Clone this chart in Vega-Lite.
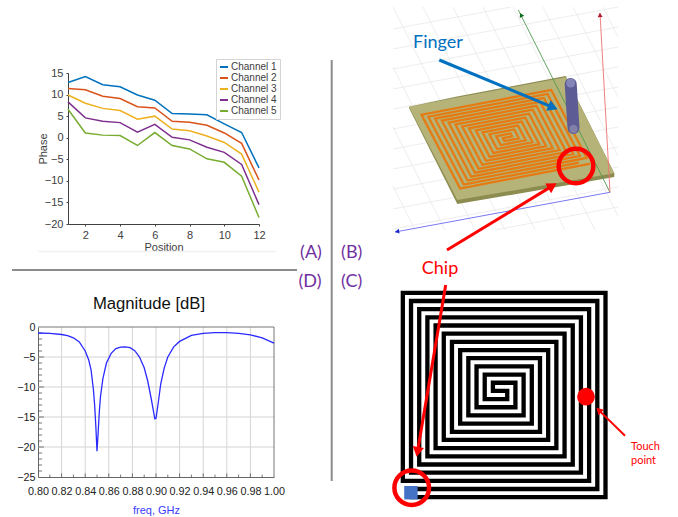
{
"$schema":"https://vega.github.io/schema/vega-lite/v6.json",
"width":678,"height":517,"padding":0,"autosize":"none","background":"white",
"config":{"view":{"stroke":null},"font":"Liberation Sans"},
"datasets":{
"phase":[
{"position":1,"channel":"Channel 1","phase":12.8},{"position":2,"channel":"Channel 1","phase":14.2},{"position":3,"channel":"Channel 1","phase":12.3},{"position":4,"channel":"Channel 1","phase":11.8},{"position":5,"channel":"Channel 1","phase":9.9},{"position":6,"channel":"Channel 1","phase":8.7},{"position":7,"channel":"Channel 1","phase":5.6},{"position":8,"channel":"Channel 1","phase":5.5},{"position":9,"channel":"Channel 1","phase":5.3},{"position":10,"channel":"Channel 1","phase":3.2},{"position":11,"channel":"Channel 1","phase":1.2},{"position":12,"channel":"Channel 1","phase":-7.0},
{"position":1,"channel":"Channel 2","phase":11.4},{"position":2,"channel":"Channel 2","phase":11.1},{"position":3,"channel":"Channel 2","phase":9.6},{"position":4,"channel":"Channel 2","phase":9.1},{"position":5,"channel":"Channel 2","phase":7.2},{"position":6,"channel":"Channel 2","phase":6.9},{"position":7,"channel":"Channel 2","phase":3.8},{"position":8,"channel":"Channel 2","phase":3.6},{"position":9,"channel":"Channel 2","phase":2.9},{"position":10,"channel":"Channel 2","phase":1.1},{"position":11,"channel":"Channel 2","phase":-1.3},{"position":12,"channel":"Channel 2","phase":-9.8},
{"position":1,"channel":"Channel 3","phase":9.9},{"position":2,"channel":"Channel 3","phase":8.0},{"position":3,"channel":"Channel 3","phase":6.8},{"position":4,"channel":"Channel 3","phase":6.3},{"position":5,"channel":"Channel 3","phase":4.3},{"position":6,"channel":"Channel 3","phase":5.0},{"position":7,"channel":"Channel 3","phase":2.0},{"position":8,"channel":"Channel 3","phase":1.6},{"position":9,"channel":"Channel 3","phase":0.4},{"position":10,"channel":"Channel 3","phase":-1.1},{"position":11,"channel":"Channel 3","phase":-3.8},{"position":12,"channel":"Channel 3","phase":-12.6},
{"position":1,"channel":"Channel 4","phase":8.3},{"position":2,"channel":"Channel 4","phase":4.6},{"position":3,"channel":"Channel 4","phase":3.8},{"position":4,"channel":"Channel 4","phase":3.5},{"position":5,"channel":"Channel 4","phase":1.3},{"position":6,"channel":"Channel 4","phase":3.1},{"position":7,"channel":"Channel 4","phase":0.1},{"position":8,"channel":"Channel 4","phase":-0.5},{"position":9,"channel":"Channel 4","phase":-2.2},{"position":10,"channel":"Channel 4","phase":-3.4},{"position":11,"channel":"Channel 4","phase":-6.2},{"position":12,"channel":"Channel 4","phase":-15.5},
{"position":1,"channel":"Channel 5","phase":6.6},{"position":2,"channel":"Channel 5","phase":1.1},{"position":3,"channel":"Channel 5","phase":0.6},{"position":4,"channel":"Channel 5","phase":0.5},{"position":5,"channel":"Channel 5","phase":-1.8},{"position":6,"channel":"Channel 5","phase":1.2},{"position":7,"channel":"Channel 5","phase":-1.8},{"position":8,"channel":"Channel 5","phase":-2.6},{"position":9,"channel":"Channel 5","phase":-4.9},{"position":10,"channel":"Channel 5","phase":-5.7},{"position":11,"channel":"Channel 5","phase":-8.9},{"position":12,"channel":"Channel 5","phase":-18.5}
],
"magnitude":[
{"f":0.80,"db":-1.0},{"f":0.81,"db":-1.05},{"f":0.82,"db":-1.25},{"f":0.825,"db":-1.45},{"f":0.83,"db":-1.8},{"f":0.835,"db":-2.5},{"f":0.84,"db":-4.0},{"f":0.843,"db":-5.5},{"f":0.845,"db":-7.2},{"f":0.847,"db":-10.5},{"f":0.848,"db":-13},{"f":0.849,"db":-16.5},{"f":0.85,"db":-20.7},{"f":0.851,"db":-17.5},{"f":0.852,"db":-14},{"f":0.853,"db":-11.5},{"f":0.855,"db":-8.6},{"f":0.858,"db":-6.0},{"f":0.862,"db":-4.4},{"f":0.866,"db":-3.6},{"f":0.87,"db":-3.35},{"f":0.874,"db":-3.3},{"f":0.878,"db":-3.45},{"f":0.882,"db":-3.95},{"f":0.886,"db":-5.0},{"f":0.89,"db":-6.8},{"f":0.893,"db":-9},{"f":0.896,"db":-12},{"f":0.899,"db":-15.3},{"f":0.9,"db":-15.2},{"f":0.902,"db":-12.5},{"f":0.904,"db":-9.5},{"f":0.907,"db":-6.8},{"f":0.91,"db":-5.0},{"f":0.915,"db":-3.3},{"f":0.92,"db":-2.4},{"f":0.93,"db":-1.4},{"f":0.94,"db":-1.05},{"f":0.95,"db":-0.95},{"f":0.96,"db":-0.95},{"f":0.97,"db":-1.05},{"f":0.98,"db":-1.3},{"f":0.99,"db":-1.8},{"f":1.0,"db":-2.7}
],
"gridD":[
{"f":0.82,"f2":0.82,"db":-25,"db2":0},{"f":0.84,"f2":0.84,"db":-25,"db2":0},{"f":0.86,"f2":0.86,"db":-25,"db2":0},{"f":0.88,"f2":0.88,"db":-25,"db2":0},{"f":0.90,"f2":0.90,"db":-25,"db2":0},{"f":0.92,"f2":0.92,"db":-25,"db2":0},{"f":0.94,"f2":0.94,"db":-25,"db2":0},{"f":0.96,"f2":0.96,"db":-25,"db2":0},{"f":0.98,"f2":0.98,"db":-25,"db2":0},
{"f":0.8,"f2":1,"db":-5,"db2":-5},{"f":0.8,"f2":1,"db":-10,"db2":-10},{"f":0.8,"f2":1,"db":-15,"db2":-15},{"f":0.8,"f2":1,"db":-20,"db2":-20}
],
"frameD":[{"f":1,"f2":1,"db":-25,"db2":0},{"f":0.8,"f2":1,"db":0,"db2":0}],
"ticksD":[
{"f":0.81,"f2":0.81,"db":-25,"db2":-24.6},{"f":0.82,"f2":0.82,"db":-25,"db2":-24.4},{"f":0.83,"f2":0.83,"db":-25,"db2":-24.6},{"f":0.84,"f2":0.84,"db":-25,"db2":-24.4},{"f":0.85,"f2":0.85,"db":-25,"db2":-24.6},{"f":0.86,"f2":0.86,"db":-25,"db2":-24.4},{"f":0.87,"f2":0.87,"db":-25,"db2":-24.6},{"f":0.88,"f2":0.88,"db":-25,"db2":-24.4},{"f":0.89,"f2":0.89,"db":-25,"db2":-24.6},{"f":0.90,"f2":0.90,"db":-25,"db2":-24.4},{"f":0.91,"f2":0.91,"db":-25,"db2":-24.6},{"f":0.92,"f2":0.92,"db":-25,"db2":-24.4},{"f":0.93,"f2":0.93,"db":-25,"db2":-24.6},{"f":0.94,"f2":0.94,"db":-25,"db2":-24.4},{"f":0.95,"f2":0.95,"db":-25,"db2":-24.6},{"f":0.96,"f2":0.96,"db":-25,"db2":-24.4},{"f":0.97,"f2":0.97,"db":-25,"db2":-24.6},{"f":0.98,"f2":0.98,"db":-25,"db2":-24.4},{"f":0.99,"f2":0.99,"db":-25,"db2":-24.6},
{"f":0.8,"f2":0.8035,"db":-1,"db2":-1},{"f":0.8,"f2":0.8035,"db":-2,"db2":-2},{"f":0.8,"f2":0.8035,"db":-3,"db2":-3},{"f":0.8,"f2":0.8035,"db":-4,"db2":-4},{"f":0.8,"f2":0.805,"db":-5,"db2":-5},{"f":0.8,"f2":0.8035,"db":-6,"db2":-6},{"f":0.8,"f2":0.8035,"db":-7,"db2":-7},{"f":0.8,"f2":0.8035,"db":-8,"db2":-8},{"f":0.8,"f2":0.8035,"db":-9,"db2":-9},{"f":0.8,"f2":0.805,"db":-10,"db2":-10},{"f":0.8,"f2":0.8035,"db":-11,"db2":-11},{"f":0.8,"f2":0.8035,"db":-12,"db2":-12},{"f":0.8,"f2":0.8035,"db":-13,"db2":-13},{"f":0.8,"f2":0.8035,"db":-14,"db2":-14},{"f":0.8,"f2":0.805,"db":-15,"db2":-15},{"f":0.8,"f2":0.8035,"db":-16,"db2":-16},{"f":0.8,"f2":0.8035,"db":-17,"db2":-17},{"f":0.8,"f2":0.8035,"db":-18,"db2":-18},{"f":0.8,"f2":0.8035,"db":-19,"db2":-19},{"f":0.8,"f2":0.805,"db":-20,"db2":-20},{"f":0.8,"f2":0.8035,"db":-21,"db2":-21},{"f":0.8,"f2":0.8035,"db":-22,"db2":-22},{"f":0.8,"f2":0.8035,"db":-23,"db2":-23},{"f":0.8,"f2":0.8035,"db":-24,"db2":-24}
],
"spiral":[
{"i":1,"s":1.1,"t":25},{"i":2,"s":24.75,"t":25},{"i":3,"s":24.75,"t":0},{"i":4,"s":0,"t":0},{"i":5,"s":0,"t":23},{"i":6,"s":22.75,"t":23},{"i":7,"s":22.75,"t":2},{"i":8,"s":2,"t":2},{"i":9,"s":2,"t":21},{"i":10,"s":20.75,"t":21},{"i":11,"s":20.75,"t":4},{"i":12,"s":4,"t":4},{"i":13,"s":4,"t":19},{"i":14,"s":18.75,"t":19},{"i":15,"s":18.75,"t":6},{"i":16,"s":6,"t":6},{"i":17,"s":6,"t":17},{"i":18,"s":16.75,"t":17},{"i":19,"s":16.75,"t":8},{"i":20,"s":8,"t":8},{"i":21,"s":8,"t":15},{"i":22,"s":14.75,"t":15},{"i":23,"s":14.75,"t":10},{"i":24,"s":10,"t":10},{"i":25,"s":10,"t":13},{"i":26,"s":12.75,"t":13},{"i":27,"s":12.75,"t":12},{"i":28,"s":11,"t":12},{"i":29,"s":11,"t":11},{"i":30,"s":13.75,"t":11},{"i":31,"s":13.75,"t":14},{"i":32,"s":9,"t":14},{"i":33,"s":9,"t":9},{"i":34,"s":15.75,"t":9},{"i":35,"s":15.75,"t":16},{"i":36,"s":7,"t":16},{"i":37,"s":7,"t":7},{"i":38,"s":17.75,"t":7},{"i":39,"s":17.75,"t":18},{"i":40,"s":5,"t":18},{"i":41,"s":5,"t":5},{"i":42,"s":19.75,"t":5},{"i":43,"s":19.75,"t":20},{"i":44,"s":3,"t":20},{"i":45,"s":3,"t":3},{"i":46,"s":21.75,"t":3},{"i":47,"s":21.75,"t":22},{"i":48,"s":1,"t":22},{"i":49,"s":1,"t":1},{"i":50,"s":23.75,"t":1},{"i":51,"s":23.75,"t":24},{"i":52,"s":1.8,"t":24}
],
"spiral3d":[
{"i":0,"x":590,"y":163.8},{"i":1,"x":584.07,"y":164.85},{"i":2,"x":460.14,"y":188.5},{"i":3,"x":421.51,"y":114.75},{"i":4,"x":551.2,"y":90},{"i":5,"x":586.74,"y":157.85},{"i":6,"x":467.53,"y":180.6},{"i":7,"x":435.08,"y":118.65},{"i":8,"x":543.81,"y":97.9},{"i":9,"x":573.17,"y":153.95},{"i":10,"x":474.92,"y":172.7},{"i":11,"x":448.65,"y":122.55},{"i":12,"x":536.42,"y":105.8},{"i":13,"x":559.6,"y":150.05},{"i":14,"x":482.31,"y":164.8},{"i":15,"x":462.22,"y":126.45},{"i":16,"x":529.03,"y":113.7},{"i":17,"x":546.03,"y":146.15},{"i":18,"x":489.7,"y":156.9},{"i":19,"x":475.79,"y":130.35},{"i":20,"x":521.64,"y":121.6},{"i":21,"x":532.46,"y":142.25},{"i":22,"x":497.09,"y":149},{"i":23,"x":489.36,"y":134.25},{"i":24,"x":514.25,"y":129.5},{"i":25,"x":518.89,"y":138.35},{"i":26,"x":504.48,"y":141.1},{"i":27,"x":502.93,"y":138.15},{"i":28,"x":512.1,"y":136.4},{"i":29,"x":510.56,"y":133.45},{"i":30,"x":496.15,"y":136.2},{"i":31,"x":500.78,"y":145.05},{"i":32,"x":525.67,"y":140.3},{"i":33,"x":517.94,"y":125.55},{"i":34,"x":482.57,"y":132.3},{"i":35,"x":493.39,"y":152.95},{"i":36,"x":539.24,"y":144.2},{"i":37,"x":525.34,"y":117.65},{"i":38,"x":469.01,"y":128.4},{"i":39,"x":486,"y":160.85},{"i":40,"x":552.81,"y":148.1},{"i":41,"x":532.73,"y":109.75},{"i":42,"x":455.44,"y":124.5},{"i":43,"x":478.61,"y":168.75},{"i":44,"x":566.38,"y":152},{"i":45,"x":540.12,"y":101.85},{"i":46,"x":441.87,"y":120.6},{"i":47,"x":471.22,"y":176.65},{"i":48,"x":579.95,"y":155.9},{"i":49,"x":547.51,"y":93.95},{"i":50,"x":428.3,"y":116.7},{"i":51,"x":463.83,"y":184.55},{"i":52,"x":578.85,"y":162.6}
],
"gridlines":[
{"x":393,"y":29,"x2":511,"y2":7},{"x":393,"y":49,"x2":618,"y2":7},{"x":393,"y":69,"x2":618,"y2":27},{"x":393,"y":89,"x2":618,"y2":47},{"x":393,"y":109,"x2":618,"y2":67},{"x":393,"y":129,"x2":618,"y2":87},{"x":393,"y":149,"x2":618,"y2":107},{"x":393,"y":169,"x2":618,"y2":127},{"x":393,"y":189,"x2":618,"y2":147},{"x":393,"y":209,"x2":618,"y2":167},{"x":393,"y":229,"x2":618,"y2":187},{"x":495,"y":230,"x2":618,"y2":207},
{"x":415,"y":230,"x2":393,"y2":186},{"x":445,"y":230,"x2":393,"y2":127},{"x":475,"y":230,"x2":393,"y2":67},{"x":505,"y":230,"x2":393,"y2":7},{"x":535,"y":230,"x2":423,"y2":7},{"x":565,"y":230,"x2":453,"y2":7},{"x":595,"y":230,"x2":483,"y2":7},{"x":618,"y":216,"x2":513,"y2":7},{"x":618,"y":156,"x2":543,"y2":7},{"x":618,"y":97,"x2":573,"y2":7},{"x":618,"y":37,"x2":603,"y2":7}
],
"boardEdge":[{"x":409,"y":106.7,"y2":108},{"x":457.3,"y":96.6,"y2":204},{"x":565.7,"y":76,"y2":185.6},{"x":614.3,"y":173.3,"y2":177}],
"boardTop":[{"x":409,"y":106.7,"y2":106.7},{"x":457.3,"y":97.6,"y2":200},{"x":565.7,"y":77.3,"y2":181.6},{"x":614.3,"y":173.3,"y2":173.3}]
},
"resolve":{"scale":{"x":"independent","y":"independent","color":"independent"},"axis":{"x":"independent","y":"independent"}},
"layer":[
{
"data":{"name":"phase"},
"mark":{"type":"line","strokeWidth":1.5,"clip":false},
"encoding":{
"x":{"field":"position","type":"quantitative","scale":{"domain":[1,12],"range":[68,259],"nice":false,"zero":false},
"axis":{"orient":"bottom","offset":-293,"values":[2,4,6,8,10,12],"labelFlush":false,"grid":false,"title":"Position","titleFontWeight":"normal","titleFontSize":11,"titleColor":"#404040","titlePadding":1,"labelFontSize":11,"labelColor":"#404040","labelPadding":3,"domainColor":"#404040","tickColor":"#404040","tickSize":2}},
"y":{"field":"phase","type":"quantitative","scale":{"domain":[-20,15],"range":[224,73],"nice":false,"zero":false},
"axis":{"orient":"left","offset":-68,"values":[-20,-15,-10,-5,0,5,10,15],"grid":false,"title":"Phase","titleX":-20,"titleFontWeight":"normal","titleFontSize":11,"titleColor":"#404040","labelFontSize":11,"labelColor":"#404040","labelPadding":3,"domainColor":"#404040","tickColor":"#404040","tickSize":2}},
"color":{"field":"channel","type":"nominal","scale":{"domain":["Channel 1","Channel 2","Channel 3","Channel 4","Channel 5"],"range":["#0072BD","#D95319","#EDB120","#7E2F8E","#77AC30"]},
"legend":{"orient":"none","legendX":216,"legendY":59,"title":null,"symbolType":"stroke","symbolSize":64,"symbolStrokeWidth":2,"labelFontSize":10,"labelColor":"#404040","rowPadding":1,"padding":3,"labelOffset":2,"fillColor":"white","strokeColor":"#d4d4d4"}}
}
},
{
"encoding":{
"x":{"field":"f","type":"quantitative","scale":{"domain":[0.8,1.0],"range":[38,274],"nice":false,"zero":false},"axis":null},
"x2":{"field":"f2"},
"y":{"field":"db","type":"quantitative","scale":{"domain":[-25,0],"range":[477,327],"nice":false,"zero":false},"axis":null},
"y2":{"field":"db2"}
},
"layer":[
{"data":{"name":"gridD"},"mark":{"type":"rule","color":"#d4d4d4","strokeWidth":1}},
{"data":{"name":"frameD"},"mark":{"type":"rule","color":"#777777","strokeWidth":1}},
{"data":{"name":"ticksD"},"mark":{"type":"rule","color":"#555555","strokeWidth":0.8}}
]
},
{
"data":{"name":"magnitude"},
"mark":{"type":"line","color":"#2a2aff","strokeWidth":1.3},
"encoding":{
"x":{"field":"f","type":"quantitative","scale":{"domain":[0.8,1.0],"range":[38,274],"nice":false,"zero":false},
"axis":{"orient":"bottom","offset":-40,"values":[0.8,0.82,0.84,0.86,0.88,0.9,0.92,0.94,0.96,0.98,1.0],"format":".2f","labelOverlap":false,"labelFlush":false,"labelBound":false,"grid":false,"ticks":false,"title":"freq, GHz","titleFontWeight":"normal","titleFontSize":11,"titleColor":"#3a3aff","titlePadding":9,"labelFontSize":10.8,"labelColor":"#222222","labelPadding":8,"domainColor":"#666666"}},
"y":{"field":"db","type":"quantitative","scale":{"domain":[-25,0],"range":[477,327],"nice":false,"zero":false},
"axis":{"orient":"left","offset":-38,"values":[-25,-20,-15,-10,-5,0],"labelOverlap":false,"grid":false,"ticks":false,"title":null,"labelFontSize":10.8,"labelColor":"#222222","labelPadding":3,"domainColor":"#666666"}}
}
},
{
"encoding":{
"x":{"field":"x","type":"quantitative","scale":{"domain":[0,678],"nice":false,"zero":false},"axis":null},
"y":{"field":"y","type":"quantitative","scale":{"domain":[517,0],"nice":false,"zero":false},"axis":null}
},
"layer":[
{"data":{"name":"gridlines"},"mark":{"type":"rule","color":"#e8e8e8","strokeWidth":0.8},"encoding":{"x2":{"field":"x2"},"y2":{"field":"y2"}}},
{"data":{"values":[{"x":38,"y":251.5,"x2":276,"y2":251.5}]},"mark":{"type":"rule","color":"#f1f1f1","strokeWidth":1.5},"encoding":{"x2":{"field":"x2"},"y2":{"field":"y2"}}},
{"data":{"values":[{"x":331.7,"y":60,"x2":331.7,"y2":481}]},"mark":{"type":"rule","color":"#8c8c8c","strokeWidth":2},"encoding":{"x2":{"field":"x2"},"y2":{"field":"y2"}}},
{"data":{"values":[{"x":12,"y":270,"x2":297,"y2":270}]},"mark":{"type":"rule","color":"#8c8c8c","strokeWidth":2},"encoding":{"x2":{"field":"x2"},"y2":{"field":"y2"}}},
{"data":{"values":[{"x":610,"y":192.3,"x2":395,"y2":232}]},"mark":{"type":"rule","color":"#6a6af0","strokeWidth":0.9},"encoding":{"x2":{"field":"x2"},"y2":{"field":"y2"}}},
{"data":{"name":"boardEdge"},"mark":{"type":"area","color":"#8d8c50"},"encoding":{"y2":{"field":"y2"}}},
{"data":{"name":"boardTop"},"mark":{"type":"area","color":"#b5b377"},"encoding":{"y2":{"field":"y2"}}},
{"data":{"name":"spiral3d"},"mark":{"type":"line","color":"#e67a10","strokeWidth":2.2,"strokeJoin":"miter"},"encoding":{"order":{"field":"i","type":"quantitative"}}},
{"data":{"values":[{"x":610,"y":192.3,"x2":518.3,"y2":10}]},"mark":{"type":"rule","color":"#4f9a4f","strokeWidth":0.9},"encoding":{"x2":{"field":"x2"},"y2":{"field":"y2"}}},
{"data":{"values":[{"x":610,"y":192.3,"x2":600,"y2":13}]},"mark":{"type":"rule","color":"#f07070","strokeWidth":0.9},"encoding":{"x2":{"field":"x2"},"y2":{"field":"y2"}}},
{"data":{"values":[{"x":521,"y":15}]},"mark":{"type":"point","shape":"triangle-up","filled":true,"opacity":1,"size":25,"color":"#0b6b20","angle":-27}},
{"data":{"values":[{"x":600,"y":15}]},"mark":{"type":"point","shape":"triangle-up","filled":true,"opacity":1,"size":25,"color":"#b01c2c","angle":-3}},
{"data":{"values":[{"x":397,"y":231.5}]},"mark":{"type":"point","shape":"triangle-up","filled":true,"opacity":1,"size":25,"color":"#1a2ad0","angle":-100}},
{"data":{"values":[{"i":1,"x":570.7,"y":84},{"i":2,"x":573.5,"y":128}]},"mark":{"type":"line","color":"#5d5c94","strokeWidth":12,"strokeCap":"round"},"encoding":{"order":{"field":"i","type":"quantitative"}}},
{"data":{"values":[{"x":570.7,"y":83}]},"mark":{"type":"point","shape":"circle","filled":true,"opacity":1,"size":80,"color":"#8585b8"}},
{"data":{"values":[{"x":573.5,"y":129}]},"mark":{"type":"point","shape":"circle","filled":true,"opacity":1,"size":70,"color":"#8080a8"}}
]
},
{
"data":{"name":"spiral"},
"mark":{"type":"line","color":"#000000","strokeWidth":4.3,"strokeJoin":"miter","strokeCap":"square"},
"encoding":{
"x":{"field":"s","type":"quantitative","scale":{"domain":[0,24.75],"range":[402.83,605.5],"nice":false,"zero":false},"axis":null},
"y":{"field":"t","type":"quantitative","scale":{"domain":[0,25],"range":[292.83,497.17],"nice":false,"zero":false},"axis":null},
"order":{"field":"i","type":"quantitative"}
}
},
{
"encoding":{
"x":{"field":"x","type":"quantitative","scale":{"domain":[0,678],"nice":false,"zero":false},"axis":null},
"y":{"field":"y","type":"quantitative","scale":{"domain":[517,0],"nice":false,"zero":false},"axis":null}
},
"layer":[
{"data":{"values":[{"x":410.9,"y":492.7}]},"mark":{"type":"point","shape":"square","filled":true,"opacity":1,"size":180,"color":"#4472c4"}},
{"data":{"values":[{"x":586,"y":396.7}]},"mark":{"type":"point","shape":"circle","filled":true,"opacity":1,"size":314,"color":"#ff0000"}},
{"data":{"values":[{"x":411.7,"y":487.7},{"x":576,"y":166}]},"mark":{"type":"point","shape":"circle","filled":false,"opacity":1,"size":1195,"color":"#ff0000","strokeWidth":4.5}},
{"data":{"values":[{"i":1,"x":445.7,"y":285},{"i":2,"x":417.5,"y":451.8}]},"mark":{"type":"line","color":"#ff0000","strokeWidth":3},"encoding":{"order":{"field":"i","type":"quantitative"}}},
{"data":{"values":[{"x":417.5,"y":451.8}]},"mark":{"type":"point","shape":"triangle-up","filled":true,"opacity":1,"size":130,"color":"#ff0000","angle":189.6}},
{"data":{"values":[{"i":1,"x":447,"y":250},{"i":2,"x":552.4,"y":185.9}]},"mark":{"type":"line","color":"#ff0000","strokeWidth":3},"encoding":{"order":{"field":"i","type":"quantitative"}}},
{"data":{"values":[{"x":552.4,"y":185.9}]},"mark":{"type":"point","shape":"triangle-up","filled":true,"opacity":1,"size":130,"color":"#ff0000","angle":58.7}},
{"data":{"values":[{"i":1,"x":439.3,"y":60},{"i":2,"x":553,"y":107.4}]},"mark":{"type":"line","color":"#0070c0","strokeWidth":3},"encoding":{"order":{"field":"i","type":"quantitative"}}},
{"data":{"values":[{"x":553,"y":107.4}]},"mark":{"type":"point","shape":"triangle-up","filled":true,"opacity":1,"size":130,"color":"#0070c0","angle":112.6}},
{"data":{"values":[{"i":1,"x":625,"y":435.7},{"i":2,"x":598.8,"y":410.1}]},"mark":{"type":"line","color":"#ff0000","strokeWidth":2},"encoding":{"order":{"field":"i","type":"quantitative"}}},
{"data":{"values":[{"x":598.8,"y":410.1}]},"mark":{"type":"point","shape":"triangle-up","filled":true,"opacity":1,"size":60,"color":"#ff0000","angle":-45.6}},
{"data":{"values":[{"x":413,"y":43,"t":"Finger"}]},"mark":{"type":"text","font":"Lato","fontSize":18,"align":"left","baseline":"middle","color":"#0070c0"},"encoding":{"text":{"field":"t"}}},
{"data":{"values":[{"x":440,"y":269,"t":"Chip"}]},"mark":{"type":"text","font":"Lato","fontSize":18,"align":"center","baseline":"middle","color":"#ff0000"},"encoding":{"text":{"field":"t"}}},
{"data":{"values":[{"x":631,"y":447,"t":"Touch"},{"x":631,"y":461,"t":"point"}]},"mark":{"type":"text","font":"Lato","fontSize":11,"align":"left","baseline":"middle","color":"#ff0000"},"encoding":{"text":{"field":"t"}}},
{"data":{"values":[{"x":311,"y":253,"t":"(A)"},{"x":351.7,"y":253,"t":"(B)"},{"x":310,"y":282,"t":"(D)"},{"x":351.7,"y":282,"t":"(C)"}]},"mark":{"type":"text","font":"Lato","fontSize":18,"align":"center","baseline":"middle","color":"#7030a0"},"encoding":{"text":{"field":"t"}}},
{"data":{"values":[{"x":149,"y":304,"t":"Magnitude [dB]"}]},"mark":{"type":"text","font":"Liberation Sans","fontSize":16.7,"align":"center","baseline":"middle","color":"#111111"},"encoding":{"text":{"field":"t"}}}
]
}
]
}
